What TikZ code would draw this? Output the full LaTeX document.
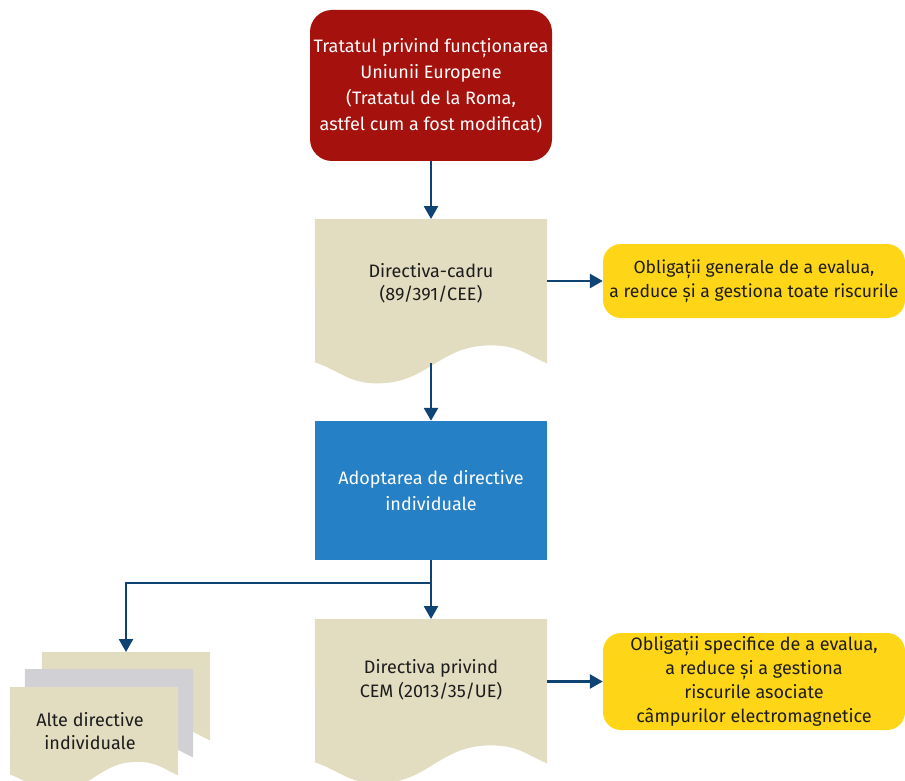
\documentclass[tikz,border=0pt]{standalone}
\usepackage{fontspec}
\setmainfont{Fira Sans}
\usetikzlibrary{arrows.meta,calc,positioning}

\definecolor{treatyred}{HTML}{A5110C}
\definecolor{docbeige}{HTML}{E2DCC0}
\definecolor{docgrey}{HTML}{D1D0D4}
\definecolor{stepblue}{HTML}{2680C6}
\definecolor{dutyyellow}{HTML}{FFD617}
\definecolor{linknavy}{HTML}{0F4373}
\definecolor{inkdark}{HTML}{1C1C1C}

% document shape with a wavy lower edge, filled behind node #1
% #2 colour, #3 width, #4 drop of the right edge below the node, #5 vertical wave scale
\newcommand\docfill[5]{%
  \fill[#2] (#1.north west) -- (#1.north east) -- ($(#1.south east)+(0,#4)$)
    .. controls +(-0.10*#3,-10*#5) and +(0.12*#3,0) .. ++(-0.246*#3,-18*#5)
    .. controls +(-0.22*#3,0) and +(0.22*#3,0) .. ++(-0.487*#3,38*#5)
    .. controls +(-0.12*#3,0) and +(0.10*#3,8*#5) .. ++(-0.267*#3,-21*#5)
    -- cycle;}

\tikzset{
  every node/.style={font=\fontsize{18}{24}\selectfont, align=center, inner sep=0pt},
  treaty/.style={fill=treatyred, text=white, rounded corners=22pt,
    minimum width=242pt, minimum height=151pt, font=\fontsize{18}{26}\selectfont},
  docnode/.style={text=inkdark, minimum width=232pt, minimum height=128pt, anchor=north},
  smalldoc/.style={text=inkdark, minimum width=168pt, minimum height=88pt, anchor=north},
  stepbox/.style={fill=stepblue, text=white, minimum width=232pt, minimum height=139pt,
    font=\fontsize{18}{26}\selectfont},
  duty/.style={fill=dutyyellow, text=inkdark, rounded corners=18pt, minimum width=302pt,
    font=\fontsize{17.6}{23.5}\selectfont},
  link/.style={draw=linknavy, line width=2.6pt, -{Triangle[width=14pt,length=13pt]}},
}

\begin{document}
\begin{tikzpicture}[x=1pt,y=-1pt]
\clip (0,0) rectangle (905,781);

% treaty at the top
\node[treaty] (tfue) at (431,85.5) {Tratatul privind funcționarea\\Uniunii Europene\\(Tratatul de la Roma,\\astfel cum a fost modificat)};

% framework directive
\node[docnode] (cadru) at (431,219) {};
\docfill{cadru}{docbeige}{232}{16}{1}
\node[docnode, font=\fontsize{18}{23}\selectfont] at (431,219) {Directiva-cadru\\(89/391/CEE)};

\node[duty, minimum height=74pt] (gen) at (754,281) {Obligații generale de a evalua,\\a reduce și a gestiona toate riscurile};

% individual directives
\node[stepbox] (adopt) at (431,490.5) {Adoptarea de directive\\individuale};

% EMF directive
\node[docnode, minimum height=122pt] (cem) at (431,619) {};
\docfill{cem}{docbeige}{232}{22}{1}
\node[docnode, minimum height=122pt] at (431,619) {Directiva privind\\CEM (2013/35/UE)};

\node[duty, minimum height=97pt, font=\fontsize{18}{24}\selectfont] (spec) at (754,681.5) {Obligații specifice de a evalua,\\a reduce și a gestiona\\riscurile asociate\\câmpurilor electromagnetice};

% stack of other directives
\node[smalldoc] (back) at (126,652) {};
\docfill{back}{docbeige}{168}{0}{0.75}
\node[smalldoc] (mid) at (109,669) {};
\docfill{mid}{docgrey}{168}{0}{0.75}
\node[smalldoc] (front) at (94,687) {};
\docfill{front}{docbeige}{168}{0}{0.75}
\node[smalldoc, xshift=-4pt, font=\fontsize{18}{23}\selectfont] at (94,687) {Alte directive\\individuale};

% connectors
\coordinate (split) at (431,583);
\draw[link] (tfue.south) -- (cadru.north);
\draw[link] ($(cadru.south)+(0,16)$) -- (adopt.north);
\draw[link] (cadru.east |- gen.west) -- (gen.west);
\draw[line width=2.6pt, draw=linknavy] (adopt.south) -- (split);
\draw[link] (split) -| (back.north);
\draw[link] (split) -- (cem.north);
\draw[link] (cem.east |- spec.west) -- (spec.west);
\end{tikzpicture}
\end{document}
